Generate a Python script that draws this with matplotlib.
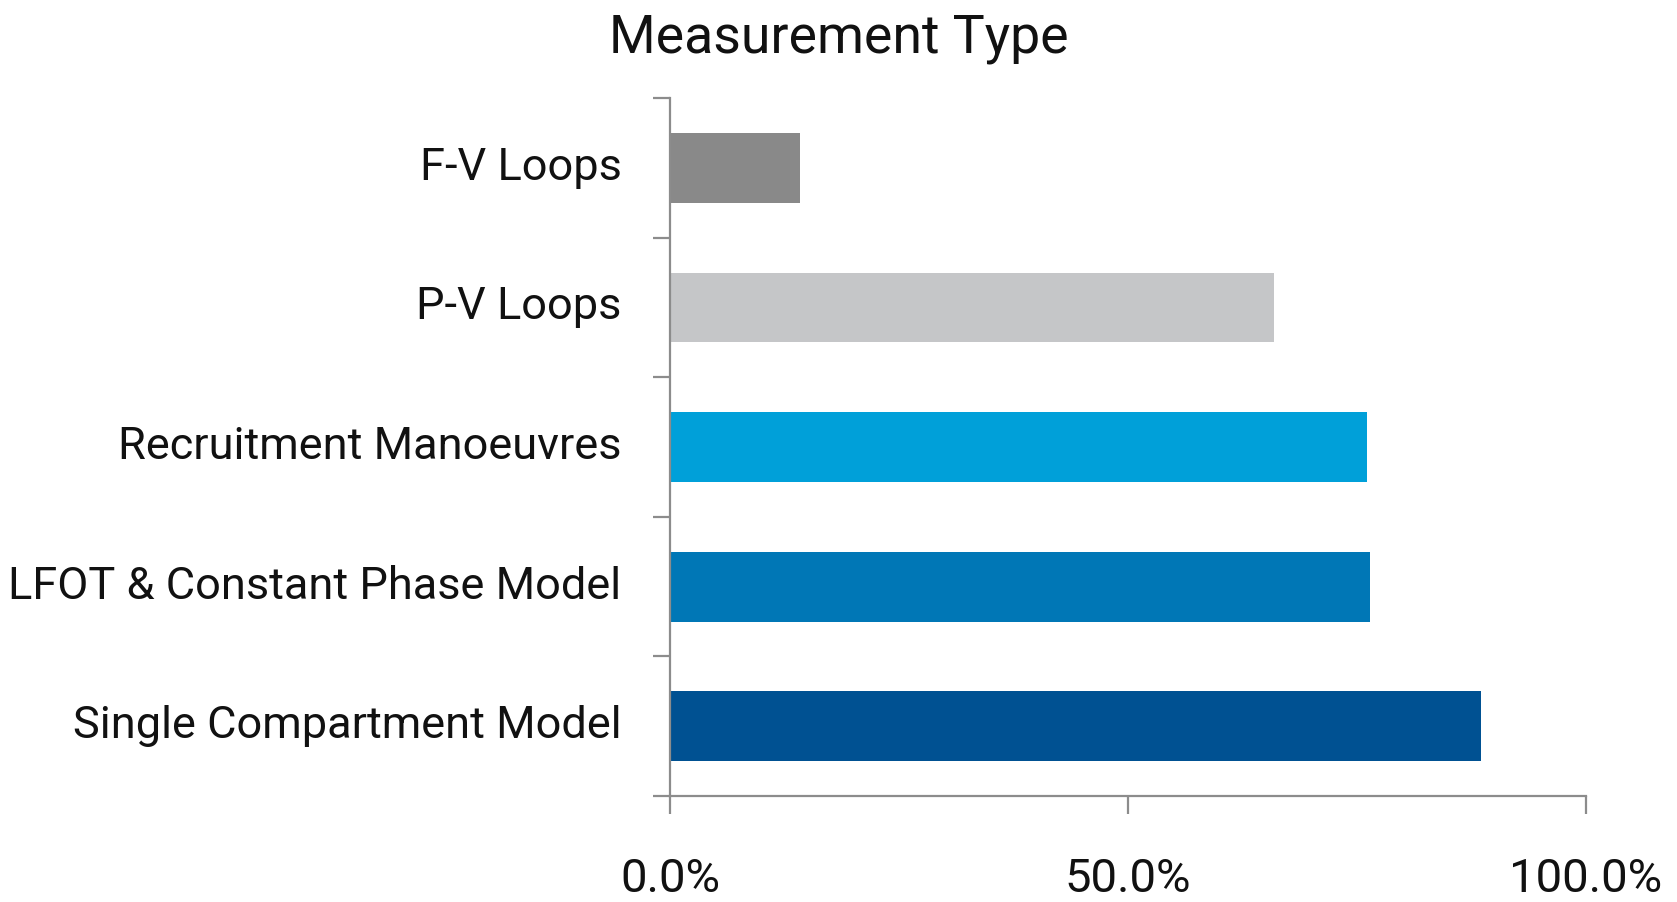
import matplotlib
matplotlib.use("Agg")
import matplotlib.pyplot as plt
import matplotlib.transforms as mtransforms
from matplotlib.ticker import FixedLocator, FuncFormatter

categories = ["Single Compartment Model", "LFOT & Constant Phase Model",
              "Recruitment Manoeuvres", "P-V Loops", "F-V Loops"]
values = [88.5, 76.4, 76.1, 65.9, 14.2]
colors = ["#005192", "#0077b6", "#00a0d9", "#c5c6c8", "#898989"]
xticks = [0, 50, 100]

plt.rcParams['font.family'] = ['Roboto', 'DejaVu Sans']

fig = plt.figure(figsize=(16.77, 9.03), dpi=100)
ax = fig.add_axes([670/1677, 1 - 797/903, (1586 - 670)/1677, (797 - 99)/903])

ypos = list(range(len(categories)))
ax.barh(ypos, values, height=0.5, color=colors)
ax.set_xlim(0, 100)
ax.set_ylim(-0.5, len(categories) - 0.5)

axcol = "#8c8c8c"
for s in ["top", "right"]:
    ax.spines[s].set_visible(False)
for s in ["left", "bottom"]:
    ax.spines[s].set_color(axcol)
    ax.spines[s].set_linewidth(1.6)

ax.set_yticks(ypos)
ax.set_yticklabels(categories)
ax.yaxis.set_minor_locator(FixedLocator([i - 0.5 for i in range(len(categories) + 1)]))
ax.tick_params(axis="y", which="major", length=0, pad=35, labelsize=32.5, labelcolor="#111111")
ax.tick_params(axis="y", which="minor", length=12, width=1.6, color=axcol, direction="out")
shift = mtransforms.ScaledTranslation(0, 4 / 72, fig.dpi_scale_trans)
for lbl in ax.get_yticklabels():
    lbl.set_verticalalignment("center_baseline")
    lbl.set_transform(lbl.get_transform() + shift)

ax.set_xticks(xticks)
ax.xaxis.set_major_formatter(FuncFormatter(lambda v, p: f"{v:.1f}%"))
ax.tick_params(axis="x", which="major", length=13, width=1.6, color=axcol, direction="out",
               pad=30, labelsize=34, labelcolor="#111111")

fig.text(0.5, 1 - 38/903, "Measurement Type", ha="center", va="center", fontsize=38.6, color="#111111")

fig.savefig("out.png", dpi=100, facecolor="white")
